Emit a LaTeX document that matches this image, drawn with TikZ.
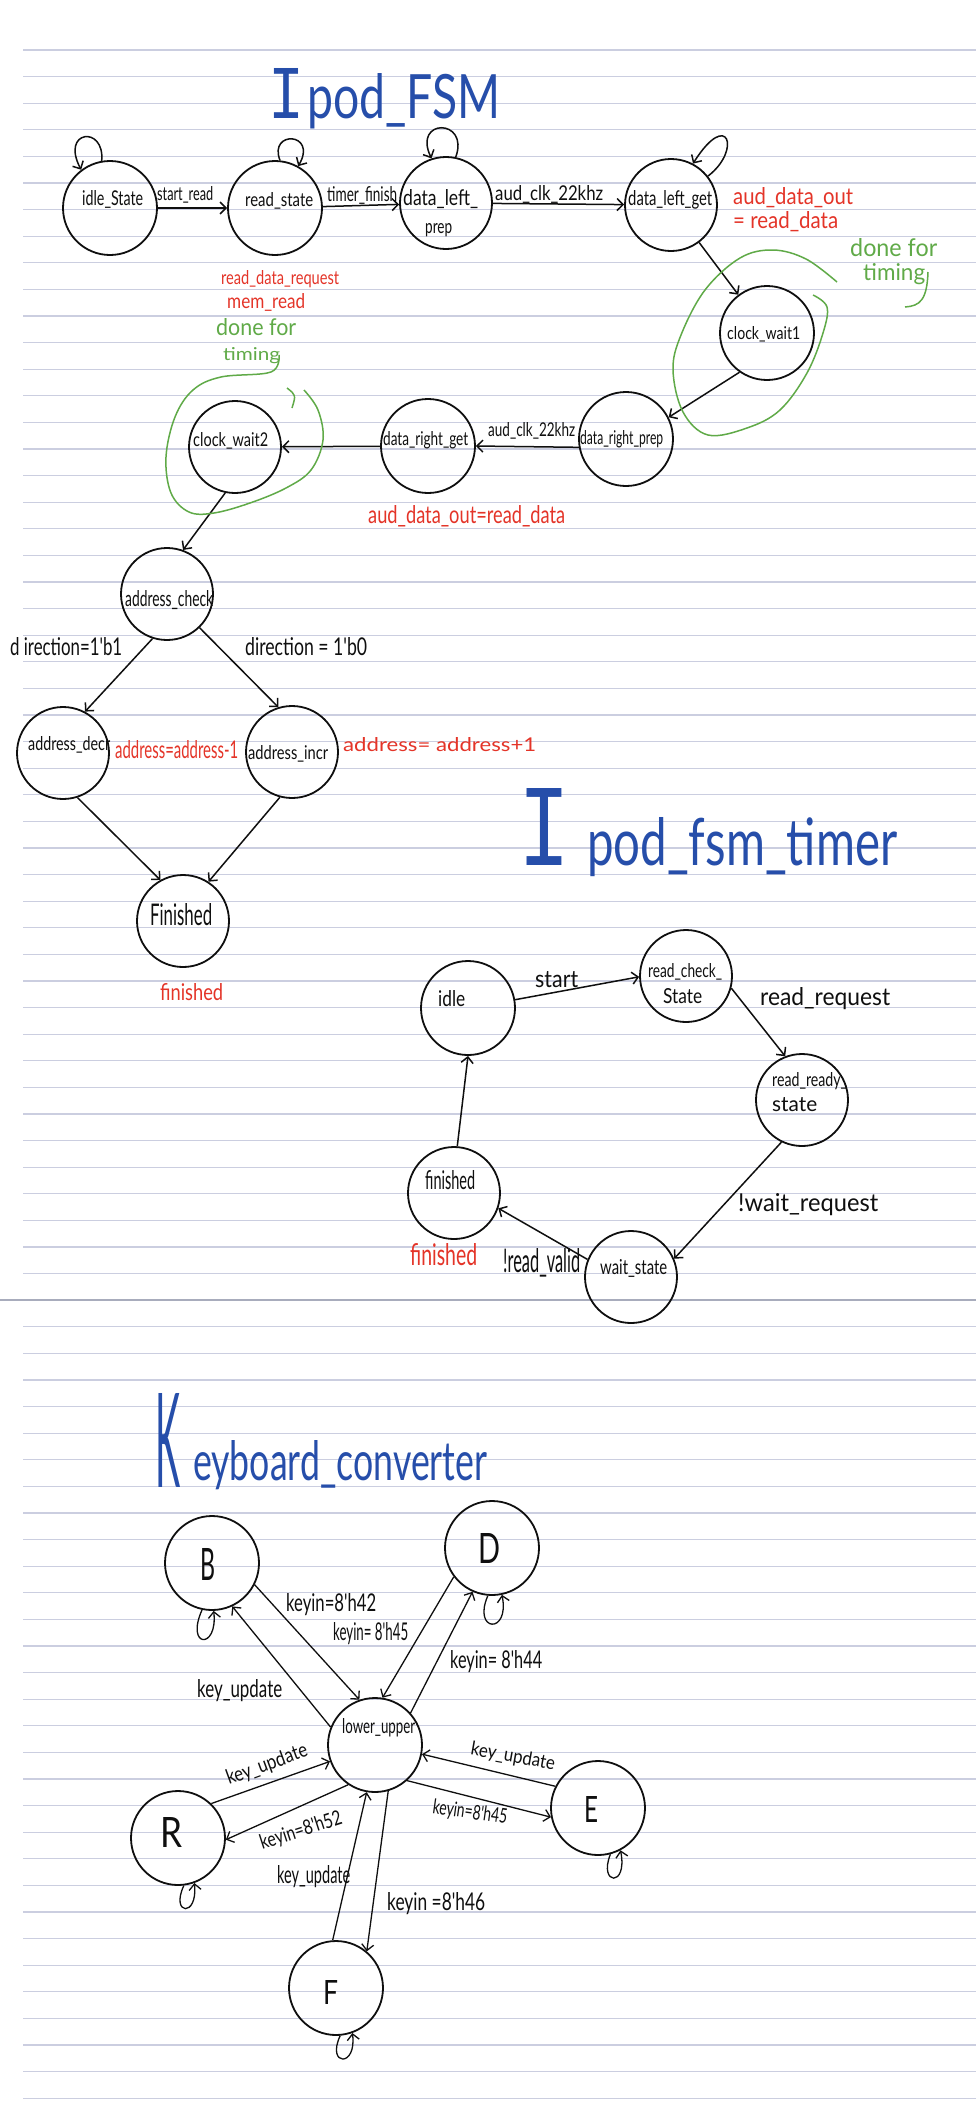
\documentclass[tikz,border=0pt]{standalone}
\usepackage{fontspec}
\usetikzlibrary{arrows.meta}
\newfontfamily\hand{Lato}
\newfontfamily\serifI{Liberation Mono}
\definecolor{rulec}{RGB}{203,206,224}
\definecolor{sepc}{RGB}{168,172,188}
\definecolor{inkred}{RGB}{228,52,40}
\definecolor{inkgreen}{RGB}{96,170,72}
\definecolor{inkblue}{RGB}{38,78,170}
\definecolor{ink}{RGB}{15,15,15}
\newcommand{\hw}[3]{\resizebox{#1pt}{#2pt}{#3}}
\tikzset{
  st/.style={circle, draw=ink, line width=1.8pt, minimum size=#1pt, inner sep=0pt},
  st/.default=94,
  lb/.style={inner sep=0pt, anchor=base west, font=\hand, text=ink},
  rl/.style={inner sep=0pt, font=\hand, text=ink},
  arr/.style={draw=ink, line width=1.5pt, -{Straight Barb[length=6pt,width=12pt]}},
  karr/.style={draw=ink, line width=1.3pt, -{Straight Barb[length=6pt,width=12pt]}},
  green1/.style={draw=inkgreen, line width=1.5pt},
}
\begin{document}
\begin{tikzpicture}[x=1pt,y=-1pt]
\fill[white] (0,0) rectangle (976,2102);
\useasboundingbox (0,0) rectangle (976,2102);
% ruled paper
\foreach \k in {0,...,77}{\ifnum\k=47\relax\else\draw[rulec,line width=1.3pt] (23,{50+26.6*\k}) -- (976,{50+26.6*\k});\fi}
\draw[sepc,line width=1.6pt] (0,1300) -- (976,1300);

% ================= Ipod_FSM =================
\node[lb,text=inkblue] (t1I) at (268,118) {\hw{36}{50}{\serifI I}};
\node[lb,text=inkblue] (t1) at (307,118) {\hw{193}{45}{pod\_FSM}};

\node[st] (idle) at (110,208) {};
\node[st] (read) at (275,208) {};
\node[st=92] (dlp) at (446,203) {};
\node[st=92] (dlg) at (671,205) {};
\node[st] (cw1) at (767,333) {};
\node[st] (drp) at (626,439) {};
\node[st] (drg) at (428,446) {};
\node[st=92] (cw2) at (235,447) {};
\node[st=92] (ac) at (167,594) {};
\node[st=92] (ad) at (63,753) {};
\node[st=92] (ai) at (292,752) {};
\node[st=92] (fin) at (183,921) {};

\node[lb] (tIdle) at (82,205) {\hw{61}{15}{idle\_State}};
\node[lb] (tRead) at (245,206) {\hw{68}{14}{read\_state}};
\node[lb] (tDlpA) at (403,205) {\hw{75}{16}{data\_left\_}};
\node[lb] (tDlpB) at (425,233) {\hw{27}{10}{prep}};
\node[lb] (tDlg) at (628,205) {\hw{84}{15}{data\_left\_get}};
\node[lb] (tCw1) at (727,339) {\hw{73}{13}{clock\_wait1}};
\node[lb] (tDrp) at (580,444) {\hw{83}{14}{data\_right\_prep}};
\node[lb] (tDrg) at (383,445) {\hw{85}{14}{data\_right\_get}};
\node[lb] (tCw2) at (193,446) {\hw{75}{14}{clock\_wait2}};
\node[lb] (tAc) at (125,606) {\hw{88}{16}{address\_check}};
\node[lb] (tAd) at (28,750) {\hw{82}{14}{address\_decr}};
\node[lb] (tAi) at (248,759) {\hw{80}{14}{address\_incr}};
\node[lb] (tFin) at (150,925) {\hw{62}{22}{Finished}};

\node[lb] (lStart) at (157,200) {\hw{56}{14}{start\_read}};
\node[lb] (lTimer) at (327,201) {\hw{70}{15}{timer\_finish}};
\node[lb] (lClk1) at (495,200) {\hw{108}{15}{aud\_clk\_22khz}};
\node[lb] (lClk2) at (488,436) {\hw{87}{14}{aud\_clk\_22khz}};
\node[lb] (lDir1) at (10,655) {\hw{112}{18}{d irection=1'b1}};
\node[lb] (lDir0) at (245,655) {\hw{122}{18}{direction = 1'b0}};

\node[lb,text=inkred] (rOutA) at (733,204) {\hw{120}{17}{aud\_data\_out}};
\node[lb,text=inkred] (rOutB) at (733,228) {\hw{105}{17}{= read\_data}};
\node[lb,text=inkred] (rReq) at (221,284) {\hw{118}{14}{read\_data\_request}};
\node[lb,text=inkred] (rMem) at (227,308) {\hw{78}{15}{mem\_read}};
\node[lb,text=inkred] (rOut2) at (368,523) {\hw{197}{18}{aud\_data\_out=read\_data}};
\node[lb,text=inkred] (rDec) at (115,758) {\hw{123}{18}{address=address-1}};
\node[lb,text=inkred] (rInc) at (343,751) {\hw{193}{14}{address= address+1}};
\node[lb,text=inkred] (rFin) at (160,1000) {\hw{63}{17}{finished}};

\node[lb,text=inkgreen] (gDone1) at (850,256) {\hw{87}{18}{done for}};
\node[lb,text=inkgreen] (gTim1) at (863,280) {\hw{62}{17}{timing}};
\node[lb,text=inkgreen] (gDone2) at (216,335) {\hw{80}{17}{done for}};
\node[lb,text=inkgreen] (gTim2) at (223,360) {\hw{57}{13}{timing}};

\draw[arr] (idle) -- (read);
\draw[arr] (read) -- (dlp);
\draw[arr] (dlp) -- (dlg);
\draw[arr] (dlg) -- (cw1);
\draw[arr] (cw1.-125) -- (drp.27);
\draw[arr] (drp.190) -- (drg.east);
\draw[arr] (drg) -- (cw2);
\draw[arr] (cw2.-102) -- (ac.70);
\draw[arr] (ac.-108) -- (ad.62);
\draw[arr] (ac.-46) -- (ai.107);
\draw[arr] (ad.-72) -- (fin.119);
\draw[arr] (ai.-105) -- (fin.57);

\draw[arr] (idle.100) .. controls (105,125) and (60,130) .. (idle.127);
\draw[arr] (read.84) .. controls (268,130) and (318,132) .. (read.61);
\draw[arr] (dlp.78) .. controls (470,118) and (412,118) .. (dlp.108);
\draw[arr] (dlg.38) .. controls (742,150) and (728,108) .. (dlg.62);

\draw[green1] plot[smooth, tension=0.6] coordinates {(837,282) (806,259) (773,250) (740,258) (705,290) (681,335) (673,370) (683,412) (708,435) (747,428) (780,410) (807,373) (823,333) (827,307) (813,295)};
\draw[green1] plot[smooth, tension=0.6] coordinates {(279,355) (271,372) (221,377) (193,390) (175,417) (166,457) (171,493) (189,512) (214,513) (250,503) (286,488) (311,470) (323,440) (318,410) (304,390)};
\draw[green1] (287,388) .. controls (296,395) .. (292,408);
\draw[green1] (928,272) .. controls (927,300) and (920,306) .. (905,307);

% ================= Ipod_fsm_timer =================
\node[lb,text=inkblue] (t2I) at (518,865) {\hw{52}{77}{\serifI I}};
\node[lb,text=inkblue] (t2) at (587,865) {\hw{310}{48}{pod\_fsm\_timer}};

\node[st] (idle2) at (468,1008) {};
\node[st=92] (rcs) at (686,976) {};
\node[st=92] (rrs) at (802,1100) {};
\node[st=92] (fin2) at (454,1193) {};
\node[st=92] (ws) at (631,1277) {};

\node[lb] (tIdle2) at (438,1006) {\hw{27}{16}{idle}};
\node[lb] (tRcsA) at (648,977) {\hw{74}{14}{read\_check\_}};
\node[lb] (tRcsB) at (663,1003) {\hw{39}{15}{State}};
\node[lb] (tRrsA) at (772,1086) {\hw{75}{14}{read\_ready\_}};
\node[lb] (tRrsB) at (772,1111) {\hw{45}{14}{state}};
\node[lb] (tFin2) at (425,1189) {\hw{50}{19}{finished}};
\node[lb] (tWs) at (600,1274) {\hw{67}{15}{wait\_state}};

\node[lb] (lStart2) at (535,987) {\hw{43}{16}{start}};
\node[lb] (lRR) at (760,1005) {\hw{130}{18}{read\_request}};
\node[lb] (lWR) at (738,1211) {\hw{140}{18}{!wait\_request}};
\node[lb] (lRV) at (503,1272) {\hw{77}{24}{!read\_valid}};
\node[lb,text=inkred] (rFin2) at (410,1265) {\hw{67}{22}{finished}};

\draw[arr] (idle2.10) -- (rcs.181);
\draw[arr] (rcs.-15) -- (rrs.111);
\draw[arr] (rrs.-116) -- (ws.23);
\draw[arr] (ws.158) -- (fin2.-19);
\draw[arr] (fin2.86) -- (idle2.-90);

% ================= Keyboard_converter =================
\node[lb,text=inkblue] (t3K) at (155,1487) {\hw{25}{94}{K}};
\node[lb,text=inkblue] (t3) at (193,1480) {\hw{294}{40}{eyboard\_converter}};

\node[st] (B) at (212,1563) {};
\node[st] (D) at (492,1548) {};
\node[st] (lu) at (375,1745) {};
\node[st] (R) at (178,1838) {};
\node[st] (E) at (598,1808) {};
\node[st] (F) at (336,1988) {};

\node[lb] (tB) at (200,1580) {\hw{15}{32}{B}};
\node[lb] (tD) at (478,1563) {\hw{22}{30}{D}};
\node[lb] (tLu) at (342,1733) {\hw{73}{15}{lower\_upper}};
\node[lb] (tR) at (160,1847) {\hw{22}{30}{R}};
\node[lb] (tE) at (584,1822) {\hw{14}{26}{E}};
\node[lb] (tF) at (323,2004) {\hw{15}{24}{F}};

\node[lb] (k42) at (286,1611) {\hw{90}{18}{keyin=8'h42}};
\node[lb] (k45a) at (333,1640) {\hw{75}{18}{keyin= 8'h45}};
\node[lb] (k44) at (450,1668) {\hw{92}{18}{keyin= 8'h44}};
\node[lb] (kuB) at (197,1697) {\hw{85}{18}{key\_update}};
\node[rl,rotate=20] (kuR) at (267,1765) {\hw{85}{15}{key\_update}};
\node[rl,rotate=18] (k52) at (301,1831) {\hw{85}{15}{keyin=8'h52}};
\node[lb] (kuF) at (277,1883) {\hw{73}{18}{key\_update}};
\node[lb] (k46) at (387,1910) {\hw{98}{18}{keyin =8'h46}};
\node[rl,rotate=-10] (kuE) at (513,1757) {\hw{85}{14}{key\_update}};
\node[rl,rotate=-8] (k45b) at (470,1813) {\hw{75}{15}{keyin=8'h45}};

\draw[karr] (lu.158) -- (B.-65);
\draw[karr] (B.-27) -- (lu.109);
\draw[karr] (D.-143) -- (lu.81);
\draw[karr] (lu.42) -- (D.-114);
\draw[karr] (R.46) -- (lu.200);
\draw[karr] (lu.-124) -- (R.-2);
\draw[karr] (lu.-48) -- (E.191);
\draw[karr] (E.153) -- (lu.-11);
\draw[karr] (F.94) -- (lu.-100);
\draw[karr] (lu.-74) -- (F.50);

\draw[karr] (B.258) .. controls (185,1648) and (218,1650) .. (B.272);
\draw[karr] (D.265) .. controls (472,1632) and (510,1635) .. (D.-78);
\draw[karr] (R.-83) .. controls (170,1915) and (198,1918) .. (R.-70);
\draw[karr] (E.-75) .. controls (598,1885) and (628,1888) .. (E.-62);
\draw[karr] (F.-85) .. controls (326,2066) and (357,2068) .. (F.-70);
\end{tikzpicture}
\end{document}
